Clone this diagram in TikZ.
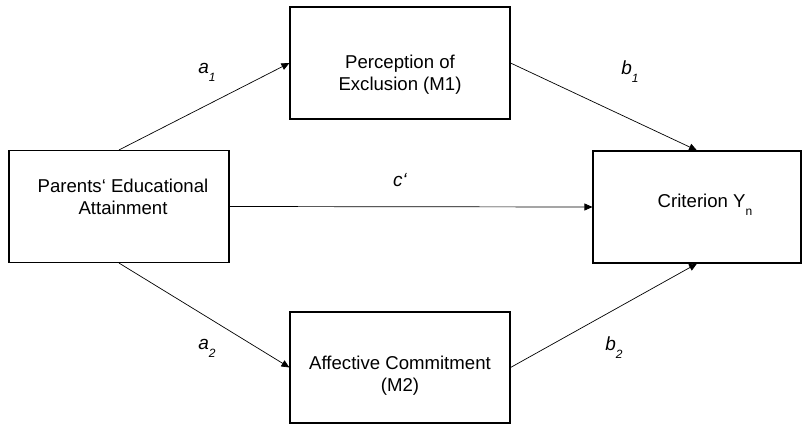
\documentclass[tikz,border=0pt]{standalone}
\usepackage{fontspec}
\setmainfont{Liberation Sans}
\usetikzlibrary{arrows.meta, positioning}

\newcommand{\lowsub}[1]{\raisebox{-8pt}{\fontsize{12}{12}\selectfont #1}}

\begin{document}
\begin{tikzpicture}[x=1pt, y=-1pt,
    box/.style={draw, line width=1.1pt, minimum width=220pt, minimum height=112pt, inner sep=0pt},
    lbl/.style={font=\fontsize{18.6}{22}\selectfont, align=center},
    coef/.style={font=\fontsize{19}{20}\selectfont\itshape},
    link/.style={-{Triangle[length=8pt, width=7pt]}, line width=0.7pt}]
\useasboundingbox (0,0) rectangle (804,424);

% Boxes
\node[box] (parents) at (119,206.5) {};
\node[box] (excl) at (400,63) {};
\node[box, minimum height=111pt] (commit) at (400,367.5) {};
\node[box, minimum width=208pt] (crit) at (697,207) {};

% Box texts
\node[lbl] (parentstxt) at (123,196.5) {Parents‘ Educational\\Attainment};
\node[lbl] (excltxt) at (400,74.5) {Perception of\\Exclusion (M1)};
\node[lbl] (committxt) at (400,376) {Affective Commitment\\(M2)};
\node[lbl] (crittxt) at (705,205) {Criterion Y\lowsub{n}};

% Paths
\draw[link] (parents.north) -- (excl.west);
\draw[link] (excl.east) -- (crit.north);
\draw[link] (parents.east) -- (crit.west);
\draw[link] (parents.south) -- (commit.west);
\draw[link] (commit.east) -- (crit.south);

% Coefficients
\node[coef] (a1) at (207,72) {a\lowsub{1}};
\node[coef] (b1) at (630,72) {b\lowsub{1}};
\node[coef] (cprime) at (400,180) {c‘};
\node[coef] (a2) at (207,348) {a\lowsub{2}};
\node[coef] (b2) at (614,348) {b\lowsub{2}};
\end{tikzpicture}
\end{document}
